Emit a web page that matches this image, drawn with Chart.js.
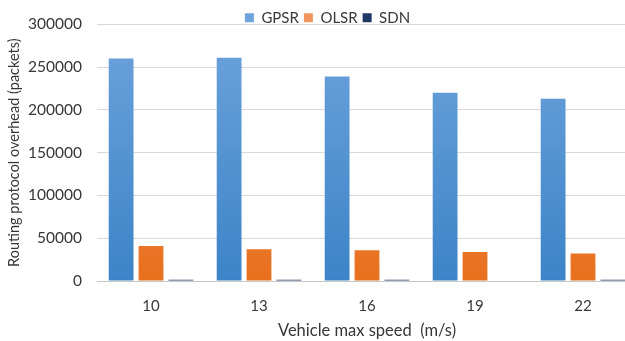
<!DOCTYPE html>
<html>
<head>
<meta charset="utf-8">
<script src="https://cdn.jsdelivr.net/npm/chart.js@4"></script>
<style>
  html, body { margin: 0; padding: 0; background: #fff; overflow: hidden; }
  /* the original figure is cut off on the right, so the canvas is a bit wider than the window */
  #wrap { width: 640px; height: 341px; }
</style>
</head>
<body>
<div id="wrap"><canvas id="chart"></canvas></div>
<script>
// data
const speeds = ['10', '13', '16', '19', '22'];
const gpsr = [260000, 261000, 239000, 220000, 213000];
const olsr = [41000, 37000, 36000, 34000, 32000];
const sdn = [1500, 1500, 1500, 0, 1500];
const yTicks = [0, 50000, 100000, 150000, 200000, 250000, 300000];

const textColor = '#383838';
const font = 'Lato, "Open Sans", sans-serif';

//vertical gradient like the excel bars, light at top
function barGradient(top, bottom) {
    return function (ctx) {
        const area = ctx.chart.chartArea;
        if (!area) return bottom;
        const g = ctx.chart.ctx.createLinearGradient(0, area.top, 0, area.bottom);
        g.addColorStop(0, top);
        g.addColorStop(1, bottom);
        return g;
    };
}

//keeps the legend from pushing the plot down, it sits on the top grid line
const legendHeight = {
    id: 'legendHeight',
    beforeLayout(chart) {
        const lg = chart.legend;
        if (lg && !lg._patched) {
            const fit = lg.fit;
            lg.fit = function () {
                fit.call(this);
                this.height = 19;
            };
            lg._patched = true;
        }
    },
    afterLayout(chart) {
        // legend is a little right of the canvas centre in the original
        chart.legend.left += 9;
        chart.legend.right += 9;
    }
};

new Chart(document.getElementById('chart'), {
    type: 'bar',
    data: {
        labels: speeds,
        datasets: [
            { label: 'GPSR', data: gpsr, backgroundColor: barGradient('#6ea3dc', '#3c84c8') },
            { label: 'OLSR', data: olsr, backgroundColor: barGradient('#f2945d', '#e8701e') },
            { label: 'SDN', data: sdn, backgroundColor: '#203864' }
        ]
    },
    options: {
        responsive: true,
        maintainAspectRatio: false,
        animation: false,
        categoryPercentage: 0.83,
        barPercentage: 0.83,
        layout: { padding: { left: 0, right: 3, top: 0, bottom: 0 } },
        plugins: {
            legend: {
                position: 'top',
                labels: {
                    boxWidth: 9,
                    boxHeight: 9,
                    padding: 5,
                    color: textColor,
                    font: { family: font, size: 15 }
                }
            },
            tooltip: { enabled: false }
        },
        scales: {
            x: {
                grid: { display: false, drawTicks: false },
                border: { display: true, color: '#c8c8c8' },
                ticks: { color: textColor, font: { family: font, size: 15 }, padding: 16 },
                title: {
                    display: true,
                    text: 'Vehicle max speed  (m/s)',
                    color: textColor,
                    font: { family: font, size: 16.5 },
                    padding: { top: 5, bottom: 0 }
                },
                afterFit: scale => { scale.height = 60; }
            },
            y: {
                min: 0,
                max: 300000,
                afterBuildTicks: scale => { scale.ticks = yTicks.map(v => ({ value: v })); },
                grid: { color: '#d9d9d9', drawTicks: false },
                border: { display: false },
                ticks: {
                    color: textColor,
                    font: { family: font, size: 15.5 },
                    padding: 15,
                    callback: v => String(v)
                },
                title: {
                    display: true,
                    text: 'Routing protocol overhead (packets)',
                    color: textColor,
                    font: { family: font, size: 14.5 },
                    padding: { top: 6, bottom: 2 }
                },
                afterFit: scale => { scale.width = 97; }
            }
        }
    },
    plugins: [legendHeight]
});
</script>
</body>
</html>
